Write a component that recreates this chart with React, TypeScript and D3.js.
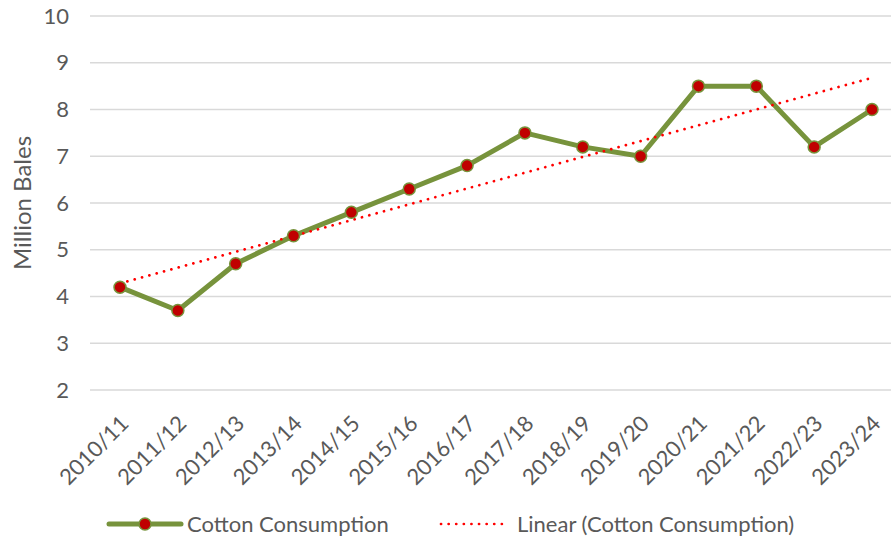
import * as d3 from 'd3';
import React from 'react';

const seasons = ['2010/11', '2011/12', '2012/13', '2013/14', '2014/15', '2015/16', '2016/17',
  '2017/18', '2018/19', '2019/20', '2020/21', '2021/22', '2022/23', '2023/24'];
const consumption = [4.2, 3.7, 4.7, 5.3, 5.8, 6.3, 6.8, 7.5, 7.2, 7.0, 8.5, 8.5, 7.2, 8.0];
const yTicks = [2, 3, 4, 5, 6, 7, 8, 9, 10];

const W = 891;
const H = 537;
const font = 'Lato, "Open Sans", sans-serif';
const grey = '#595959';
const fs = 22;

const App = () => {
  const x = d3.scalePoint<string>().domain(seasons).range([120, 872]);
  const y = d3.scaleLinear().domain([2, 10]).range([390, 16]);

  // least squares trend over season index
  const n = consumption.length;
  const idx = d3.range(n);
  const mx = d3.mean(idx)!;
  const my = d3.mean(consumption)!;
  const slope = d3.sum(idx, i => (i - mx) * (consumption[i] - my)) / d3.sum(idx, i => (i - mx) ** 2);
  const icpt = my - slope * mx;
  const trend = [0, n - 1].map(i => ({ s: seasons[i], v: icpt + slope * i }));

  const line = d3.line<number>().x((_, i) => x(seasons[i])!).y(d => y(d));
  const trendLine = d3.line<{ s: string; v: number }>().x(d => x(d.s)!).y(d => y(d.v));

  return (
    <svg width={W} height={H} style={{ position: 'absolute', left: 0, top: 0, background: '#fff' }}
      fontFamily={font}>
      {yTicks.map(t => (
        <g key={t}>
          <line x1={90} x2={W} y1={y(t)} y2={y(t)} stroke="#d9d9d9" strokeWidth={1.3} />
          <text x={69} y={y(t)} dy="0.35em" textAnchor="end" fontSize={fs} fill={grey}>{t}</text>
        </g>
      ))}
      <text transform={`translate(23,${(y(2) + y(10)) / 2}) rotate(-90)`} textAnchor="middle"
        dy="0.35em" fontSize={24} fill={grey}>Million Bales</text>

      {seasons.map(s => (
        <text key={s} transform={`translate(${x(s)! + 10},${425}) rotate(-45)`} textAnchor="end"
          fontSize={fs} fill={grey}>{s}</text>
      ))}

      <path d={line(consumption)!} fill="none" stroke="#77933C" strokeWidth={5} strokeLinejoin="round" />
      <path d={trendLine(trend)!} fill="none" stroke="#FF0000" strokeWidth={2.7}
        strokeDasharray="0.1 7.5" strokeLinecap="round" />
      {consumption.map((v, i) => (
        <circle key={i} cx={x(seasons[i])} cy={y(v)} r={6} fill="#C00000" stroke="#77933C" strokeWidth={1.5} />
      ))}

      <g transform="translate(0,524)">
        <line x1={109} x2={181} y1={0} y2={0} stroke="#77933C" strokeWidth={5} strokeLinecap="round" />
        <circle cx={145} cy={0} r={6} fill="#C00000" stroke="#77933C" strokeWidth={1.5} />
        <text x={187} y={0} dy="0.35em" fontSize={fs} fill={grey}>Cotton Consumption</text>
        <line x1={441} x2={509} y1={0} y2={0} stroke="#FF0000" strokeWidth={2.7}
          strokeDasharray="0.1 7.5" strokeLinecap="round" />
        <text x={517} y={0} dy="0.35em" fontSize={fs} fill={grey}>Linear (Cotton Consumption)</text>
      </g>
    </svg>
  );
};

export default App;
